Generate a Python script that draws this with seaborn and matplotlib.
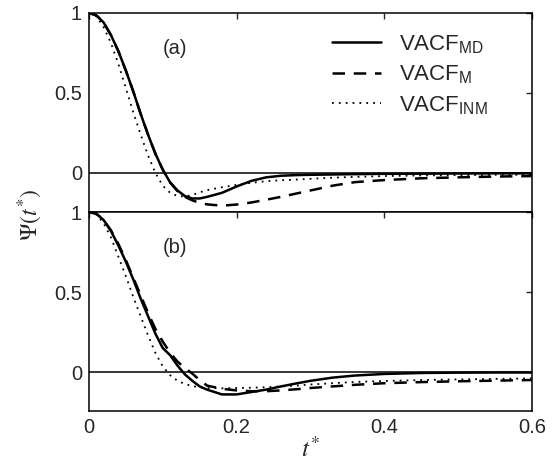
import numpy as np
import pandas as pd
import seaborn as sns
import matplotlib.pyplot as plt
from matplotlib.ticker import FormatStrFormatter

# time grid (t*)
t = [0, 0.01, 0.02, 0.03, 0.04, 0.05, 0.06, 0.07, 0.08, 0.09, 0.10, 0.11, 0.12,
     0.13, 0.14, 0.15, 0.16, 0.18, 0.20, 0.22, 0.24, 0.26, 0.28, 0.30, 0.33,
     0.36, 0.40, 0.45, 0.50, 0.55, 0.60]

# panel (a)
a_md = [1.0, 0.985, 0.94, 0.86, 0.76, 0.64, 0.51, 0.37, 0.24, 0.12, 0.02, -0.06, -0.11,
        -0.145, -0.16, -0.16, -0.15, -0.125, -0.085, -0.05, -0.028, -0.018, -0.014, -0.012, -0.01,
        -0.008, -0.006, -0.005, -0.004, -0.003, -0.003]
a_m = [1.0, 0.985, 0.94, 0.86, 0.76, 0.64, 0.51, 0.37, 0.24, 0.12, 0.02, -0.06, -0.115,
       -0.15, -0.172, -0.187, -0.197, -0.205, -0.198, -0.185, -0.168, -0.15, -0.13, -0.11, -0.08,
       -0.058, -0.045, -0.034, -0.028, -0.023, -0.02]
a_inm = [1.0, 0.98, 0.91, 0.81, 0.68, 0.53, 0.38, 0.24, 0.11, 0.0, -0.08, -0.125, -0.145,
         -0.148, -0.138, -0.122, -0.108, -0.09, -0.075, -0.062, -0.052, -0.046, -0.042, -0.037, -0.03,
         -0.025, -0.02, -0.016, -0.014, -0.012, -0.012]

# panel (b)
b_md = [1.0, 0.99, 0.95, 0.88, 0.79, 0.69, 0.58, 0.46, 0.35, 0.24, 0.15, 0.105, 0.04,
        -0.015, -0.055, -0.09, -0.11, -0.14, -0.14, -0.125, -0.11, -0.09, -0.072, -0.055, -0.035,
        -0.022, -0.012, -0.006, -0.004, -0.003, -0.003]
b_m = [1.0, 0.99, 0.95, 0.885, 0.80, 0.70, 0.59, 0.48, 0.37, 0.27, 0.19, 0.12, 0.065,
       0.025, -0.01, -0.05, -0.085, -0.105, -0.115, -0.12, -0.12, -0.115, -0.108, -0.1, -0.09,
       -0.08, -0.07, -0.063, -0.058, -0.054, -0.05]
b_inm = [1.0, 0.985, 0.93, 0.84, 0.72, 0.6, 0.47, 0.35, 0.23, 0.12, 0.035, -0.02, -0.055,
         -0.075, -0.088, -0.095, -0.1, -0.102, -0.1, -0.098, -0.095, -0.09, -0.085, -0.078, -0.07,
         -0.062, -0.056, -0.05, -0.046, -0.043, -0.04]

labels = [r'VACF$_\mathregular{MD}$', r'VACF$_\mathregular{M}$', r'VACF$_\mathregular{INM}$']
styles = ['-', (0, (5, 3.5)), (0, (1, 2.8))]
widths = [1.8, 1.8, 1.3]

sns.set_style('white')
plt.rcParams['font.family'] = ['Liberation Sans', 'DejaVu Sans']

fig = plt.figure(figsize=(5.59, 4.61), dpi=100)
ax1 = fig.add_axes([0.159, 0.540, 0.793, 0.432])
ax2 = fig.add_axes([0.159, 0.108, 0.793, 0.432], sharex=ax1)

panels = [(ax1, [a_md, a_m, a_inm], '(a)'), (ax2, [b_md, b_m, b_inm], '(b)')]
for ax, series, tag in panels:
    ax.axhline(0, color='black', lw=1.1)
    for vals, lab, ls, lw in zip(series, labels, styles, widths):
        sns.lineplot(x=t, y=vals, ax=ax, color='black', linestyle=ls, lw=lw, label=lab)
    ax.set_xlim(0, 0.6)
    ax.set_ylim(-0.245, 1.0)
    ax.set_yticks([0, 0.5, 1])
    ax.yaxis.set_major_formatter(FormatStrFormatter('%g'))
    ax.tick_params(direction='in', top=True, right=True, length=4, width=1, labelsize=14.5, pad=5)
    for s in ax.spines.values():
        s.set_color('black')
        s.set_linewidth(1.1)
    ax.text(0.195, 0.82, tag, transform=ax.transAxes, fontsize=14.5, ha='center', va='center')

ax1.legend(loc='upper right', frameon=False, fontsize=16, handlelength=2.2,
           borderaxespad=0.2, labelspacing=0.35, bbox_to_anchor=(0.93, 0.965))
ax2.get_legend().remove()
ax1.tick_params(labelbottom=False)
ax2.set_xticks([0, 0.2, 0.4, 0.6])
ax2.xaxis.set_major_formatter(FormatStrFormatter('%g'))
ax2.set_xlabel(r'$t^{*}$', fontsize=18, math_fontfamily='stix', labelpad=0)
fig.text(0.055, 0.535, r'$\Psi(t^{*})$', rotation=90, fontsize=17, math_fontfamily='stix',
         ha='center', va='center')

fig.savefig('out.png', dpi=100)
